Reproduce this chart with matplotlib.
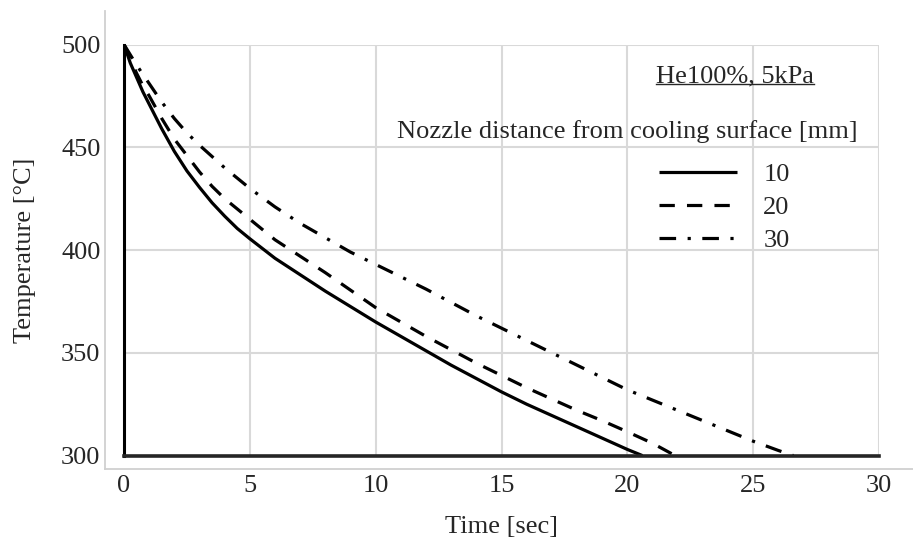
import matplotlib
matplotlib.use("Agg")
import matplotlib.pyplot as plt
from matplotlib.lines import Line2D

plt.rcParams['font.family'] = ['Liberation Serif', 'DejaVu Serif']

# Time [sec] and Temperature [°C] for each nozzle distance
t_10 = [0, 0.25, 0.5, 0.75, 1, 1.5, 2, 2.5, 3, 3.5, 4, 4.5, 5, 6, 7, 8, 9, 10, 11, 12,
        13, 14, 15, 16, 17, 18, 19, 20, 20.6]
T_10 = [500, 491, 484, 477, 471, 459, 448, 438.5, 430.5, 423, 416.5, 410.5, 405.5, 396, 388, 380,
        372.5, 365, 358, 351, 344, 337.5, 331, 325, 319.5, 314, 308.5, 303, 300]

t_20 = [0, 0.25, 0.5, 0.75, 1, 1.5, 2, 2.5, 3, 3.5, 4, 4.5, 5, 6, 7, 8, 9, 10, 11, 12,
        13, 14, 15, 16, 17, 18, 19, 20, 21, 21.9]
T_20 = [500, 493, 486, 480, 475, 464, 454, 446, 438, 431, 425, 420, 415, 405, 397, 389,
        380.5, 372, 365, 358, 351.5, 345, 339, 333, 327.5, 322, 317, 311.6, 306, 300]

t_30 = [0, 0.5, 1, 1.5, 2, 2.5, 3, 3.5, 4, 4.5, 5, 6, 7, 8, 9, 10, 11, 12, 13, 14,
        15, 16, 17, 18, 19, 20, 21, 22, 23, 24, 25, 26, 26.6]
T_30 = [500, 490, 481, 472, 464, 457, 451, 445.5, 440, 435, 430, 421, 413, 406, 399, 393,
        387, 381, 374.5, 368, 362, 356, 350, 344, 338, 332, 327, 322, 317, 312, 307, 302.5, 300]

labels = ['10', '20', '30']
x_ticks = [0, 5, 10, 15, 20, 25, 30]
y_ticks = [300, 350, 400, 450, 500]

W, H = 913, 542
fig = plt.figure(figsize=(W / 100, H / 100), dpi=100)
ax_l, ax_r, ax_t, ax_b = 124, 879, 44.5, 455.6
ax = fig.add_axes([ax_l / W, 1 - ax_b / H, (ax_r - ax_l) / W, (ax_b - ax_t) / H])

FS = 19
lw = 2.3
l1, = ax.plot(t_10, T_10, color='black', lw=lw, solid_capstyle='butt', label=labels[0])
l2, = ax.plot(t_20, T_20, color='black', lw=lw, dashes=(4.8, 3.8), label=labels[1])
l3, = ax.plot(t_30, T_30, color='black', lw=lw, dashes=(5.2, 3.6, 1.0, 3.6), label=labels[2])

ax.set_xlim(0, 30)
ax.set_ylim(300, 500)
ax.set_xticks(x_ticks)
ax.set_yticks(y_ticks)
ax.grid(True, color='#d9d9d9', lw=1.5)
ax.set_axisbelow(True)
for s in ['top', 'right']:
    ax.spines[s].set_visible(False)
ax.spines['left'].set_color('black')
ax.spines['left'].set_linewidth(2.2)
ax.spines['bottom'].set_color('#262626')
ax.spines['bottom'].set_linewidth(2.6)
ax.tick_params(length=0, labelsize=FS, colors='#262626')
ax.tick_params(axis='x', pad=14)
ax.tick_params(axis='y', pad=17)
ax.set_xlabel('Time [sec]', fontsize=FS, color='#262626')
ax.set_ylabel('Temperature [°C]', fontsize=FS, color='#262626')
ax.yaxis.set_label_coords(-(ax_l - 36) / (ax_r - ax_l), 0.5)
ax.xaxis.set_label_coords(0.5, -(516 - ax_b) / (ax_b - ax_t))

# outer light-gray frame lines (figure coords)
fig.add_artist(Line2D([105 / W, 105 / W], [1 - 11 / H, 1 - 469 / H], color='#d0d0d0', lw=1.3))
fig.add_artist(Line2D([105 / W, 1.0], [1 - 469 / H, 1 - 469 / H], color='#d0d0d0', lw=1.3))

# annotation texts
t1 = fig.text(735 / W, 1 - 82 / H, 'He100%, 5kPa', fontsize=FS, ha='center', va='baseline', color='#262626')
fig.text(858 / W, 1 - 138 / H, 'Nozzle distance from cooling surface [mm]', fontsize=FS,
         ha='right', va='baseline', color='#262626')

fig.canvas.draw()
bb = t1.get_window_extent()
fig.add_artist(Line2D([bb.x0 / W, bb.x1 / W], [(H - 84) / H, (H - 84) / H], color='#262626', lw=1.0))

leg = ax.legend(handles=[l1, l2, l3], loc='upper left', frameon=False, fontsize=FS,
                handlelength=2.95, handletextpad=1.0, labelspacing=0.36, borderpad=0,
                borderaxespad=0,
                bbox_to_anchor=((659 - ax_l) / (ax_r - ax_l), 1 - (163 - ax_t) / (ax_b - ax_t)))
for tx in leg.get_texts():
    tx.set_color('#262626')

fig.savefig('out.png', dpi=100, facecolor='white')
